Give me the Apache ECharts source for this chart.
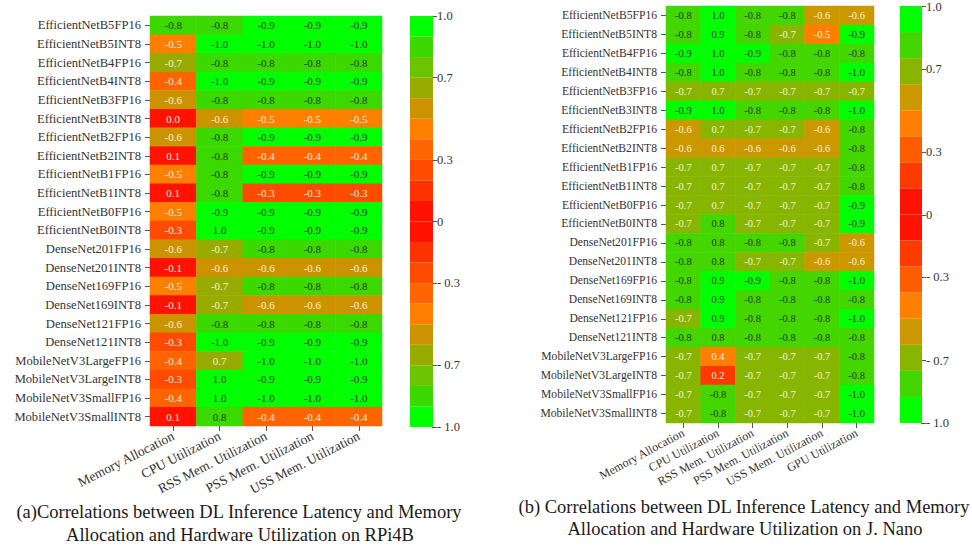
<!DOCTYPE html>
<html>
<head>
<meta charset="utf-8">
<script src="https://cdn.jsdelivr.net/npm/echarts@6/dist/echarts.min.js"></script>
<style>
html,body{margin:0;padding:0;background:#fff;}
#chart{width:972px;height:546px;}
</style>
</head>
<body>
<div id="chart"></div>
<script>
const models = ['EfficientNetB5FP16','EfficientNetB5INT8','EfficientNetB4FP16','EfficientNetB4INT8','EfficientNetB3FP16','EfficientNetB3INT8','EfficientNetB2FP16','EfficientNetB2INT8','EfficientNetB1FP16','EfficientNetB1INT8','EfficientNetB0FP16','EfficientNetB0INT8','DenseNet201FP16','DenseNet201INT8','DenseNet169FP16','DenseNet169INT8','DenseNet121FP16','DenseNet121INT8','MobileNetV3LargeFP16','MobileNetV3LargeINT8','MobileNetV3SmallFP16','MobileNetV3SmallINT8'];

const rpiMetrics = ['Memory Allocation','CPU Utilization','RSS Mem. Utilization','PSS Mem. Utilization','USS Mem. Utilization'];
const nanoMetrics = ['Memory Allocation','CPU Utilization','RSS Mem. Utilization','PSS Mem. Utilization','USS Mem. Utilization','GPU Utilization'];

// RPi4B correlations (rows = models, columns = rpiMetrics)
const rpiValues = [
  [-0.8,-0.8,-0.9,-0.9,-0.9],
  [-0.5,-1.0,-1.0,-1.0,-1.0],
  [-0.7,-0.8,-0.8,-0.8,-0.8],
  [-0.4,-1.0,-0.9,-0.9,-0.9],
  [-0.6,-0.8,-0.8,-0.8,-0.8],
  [0.0,-0.6,-0.5,-0.5,-0.5],
  [-0.6,-0.8,-0.9,-0.9,-0.9],
  [0.1,-0.8,-0.4,-0.4,-0.4],
  [-0.5,-0.8,-0.9,-0.9,-0.9],
  [0.1,-0.8,-0.3,-0.3,-0.3],
  [-0.5,-0.9,-0.9,-0.9,-0.9],
  [-0.3,1.0,-0.9,-0.9,-0.9],
  [-0.6,-0.7,-0.8,-0.8,-0.8],
  [-0.1,-0.6,-0.6,-0.6,-0.6],
  [-0.5,-0.7,-0.8,-0.8,-0.8],
  [-0.1,-0.7,-0.6,-0.6,-0.6],
  [-0.6,-0.8,-0.8,-0.8,-0.8],
  [-0.3,-1.0,-0.9,-0.9,-0.9],
  [-0.4,0.7,-1.0,-1.0,-1.0],
  [-0.3,1.0,-0.9,-0.9,-0.9],
  [-0.4,1.0,-1.0,-1.0,-1.0],
  [0.1,0.8,-0.4,-0.4,-0.4]
];

// Jetson Nano correlations (rows = models, columns = nanoMetrics)
const nanoValues = [
  [-0.8,1.0,-0.8,-0.8,-0.6,-0.6],
  [-0.8,0.9,-0.8,-0.7,-0.5,-0.9],
  [-0.9,1.0,-0.9,-0.8,-0.8,-0.8],
  [-0.8,1.0,-0.8,-0.8,-0.8,-1.0],
  [-0.7,0.7,-0.7,-0.7,-0.7,-0.7],
  [-0.9,1.0,-0.8,-0.8,-0.8,-1.0],
  [-0.6,0.7,-0.7,-0.7,-0.6,-0.8],
  [-0.6,0.6,-0.6,-0.6,-0.6,-0.8],
  [-0.7,0.7,-0.7,-0.7,-0.7,-0.8],
  [-0.7,0.7,-0.7,-0.7,-0.7,-0.8],
  [-0.7,0.7,-0.7,-0.7,-0.7,-0.9],
  [-0.7,0.8,-0.7,-0.7,-0.7,-0.9],
  [-0.8,0.8,-0.8,-0.8,-0.7,-0.6],
  [-0.8,0.8,-0.7,-0.7,-0.6,-0.6],
  [-0.8,0.9,-0.9,-0.8,-0.8,-1.0],
  [-0.8,0.9,-0.8,-0.8,-0.8,-0.8],
  [-0.7,0.9,-0.8,-0.8,-0.8,-1.0],
  [-0.8,0.8,-0.8,-0.8,-0.8,-0.8],
  [-0.7,0.4,-0.7,-0.7,-0.7,-0.8],
  [-0.7,0.2,-0.7,-0.7,-0.7,-0.8],
  [-0.7,-0.8,-0.7,-0.7,-0.7,-1.0],
  [-0.7,-0.8,-0.7,-0.7,-0.7,-1.0]
];

const colorbarTicks = [1.0, 0.7, 0.3, 0, -0.3, -0.7, -1.0];
const colorbarTickLabels = ['1.0', '0.7', '0.3', '0', '- 0.3', '- 0.7', '- 1.0'];

const captionA = ['(a)Correlations between DL Inference Latency and Memory', 'Allocation and Hardware Utilization on RPi4B'];
const captionB = ['(b) Correlations between DL Inference Latency and Memory', 'Allocation and Hardware Utilization on J. Nano'];

// colour bands (by |value|), from strongest to weakest
const rpiBandColors = ['#00ff00','#3bd900','#6cc300','#98ab00','#cc9300','#ff7f00','#ff6400','#ff4b00','#ff3200','#ff1200'];
const rpiBandEdges = [1.0,0.85,0.75,0.72,0.65,0.55,0.45,0.35,0.25,0.15,0];
const nanoBandColors = ['#00ff00','#44d600','#88b600','#cc9800','#ff7f00','#ff5c00','#ff3a00','#ff1200'];
const nanoBandEdges = [1.0,0.85,0.75,0.65,0.55,0.35,0.25,0.15,0];

function buildPieces(colors, edges) {
  const pieces = [];
  const n = colors.length;
  for (let i = 0; i < n; i++) {
    const hi = edges[i], lo = edges[i + 1];
    if (i === 0) pieces.push({gte: lo, lte: hi, color: colors[i]});
    else pieces.push({gte: lo, lt: hi, color: colors[i]});
    if (i === 0) pieces.push({gte: -hi, lte: -lo, color: colors[i]});
    else if (i === n - 1) pieces.push({gt: -hi, lt: 0, color: colors[i]});
    else pieces.push({gt: -hi, lte: -lo, color: colors[i]});
  }
  pieces.sort((a, b) => {
    const av = (a.gte !== undefined ? a.gte : a.gt);
    const bv = (b.gte !== undefined ? b.gte : b.gt);
    return av - bv;
  });
  return pieces;
}

function toCells(values) {
  const out = [];
  values.forEach((row, r) => row.forEach((v, c) => out.push([c, r, v])));
  return out;
}

const FONT = "'Liberation Serif', 'Times New Roman', serif";
const TXT = '#333';

function cellLabel(size) {
  return {
    show: true,
    fontFamily: FONT,
    fontSize: size,
    formatter: p => {
      const v = p.value[2];
      const s = v.toFixed(1);
      return Math.abs(v) >= 0.75 ? '{d|' + s + '}' : '{l|' + s + '}';
    },
    rich: {
      d: {color: '#263a18', fontFamily: FONT, fontSize: size},
      l: {color: '#f6f0dc', fontFamily: FONT, fontSize: size}
    }
  };
}

function cbFormatter(v) {
  let best = 0;
  colorbarTicks.forEach((t, i) => { if (Math.abs(t - v) < Math.abs(colorbarTicks[best] - v)) best = i; });
  return colorbarTickLabels[best];
}

const chart = echarts.init(document.getElementById('chart'), null, {renderer: 'svg'});

const option = {
  backgroundColor: '#ffffff',
  animation: false,
  grid: [
    {left: 150, top: 16, width: 232, height: 410},
    {left: 666, top: 6, width: 208, height: 417},
    {left: 432, top: 16, width: 1, height: 411},
    {left: 921, top: 6, width: 1, height: 417}
  ],
  xAxis: [
    {type: 'category', gridIndex: 0, data: rpiMetrics,
     axisLine: {show: false}, splitLine: {show: false},
     axisTick: {show: true, alignWithLabel: true, length: 5, lineStyle: {color: '#555'}},
     axisLabel: {interval: 0, rotate: 27, margin: 9, fontFamily: FONT, fontSize: 13.5, color: TXT}},
    {type: 'category', gridIndex: 1, data: nanoMetrics,
     axisLine: {show: false}, splitLine: {show: false},
     axisTick: {show: true, alignWithLabel: true, length: 5, lineStyle: {color: '#555'}},
     axisLabel: {interval: 0, rotate: 28, margin: 9, fontFamily: FONT, fontSize: 12, color: TXT}},
    {type: 'value', gridIndex: 2, show: false, min: 0, max: 1},
    {type: 'value', gridIndex: 3, show: false, min: 0, max: 1}
  ],
  yAxis: [
    {type: 'category', gridIndex: 0, data: models, inverse: true,
     axisLine: {show: false}, splitLine: {show: false},
     axisTick: {show: true, alignWithLabel: true, length: 5, lineStyle: {color: '#555'}},
     axisLabel: {interval: 0, margin: 9, fontFamily: FONT, fontSize: 12.6, color: TXT}},
    {type: 'category', gridIndex: 1, data: models, inverse: true,
     axisLine: {show: false}, splitLine: {show: false},
     axisTick: {show: true, alignWithLabel: true, length: 5, lineStyle: {color: '#555'}},
     axisLabel: {interval: 0, margin: 9, fontFamily: FONT, fontSize: 11.6, color: TXT}},
    {type: 'value', gridIndex: 2, position: 'right', min: -1, max: 1,
     axisLine: {show: false}, splitLine: {show: false},
     axisTick: {show: true, length: 5, customValues: colorbarTicks, lineStyle: {color: '#555'}},
     axisLabel: {customValues: colorbarTicks, formatter: cbFormatter, margin: 4, fontFamily: FONT, fontSize: 12.5, color: TXT}},
    {type: 'value', gridIndex: 3, position: 'right', min: -1, max: 1,
     axisLine: {show: false}, splitLine: {show: false},
     axisTick: {show: true, length: 5, customValues: colorbarTicks, lineStyle: {color: '#555'}},
     axisLabel: {customValues: colorbarTicks, formatter: cbFormatter, margin: 4, fontFamily: FONT, fontSize: 12.5, color: TXT}}
  ],
  visualMap: [
    {type: 'piecewise', seriesIndex: 0, dimension: 2, orient: 'vertical',
     left: 410, top: 16, padding: 0, itemGap: 0, itemWidth: 23, itemHeight: 411 / 20,
     itemSymbol: 'rect', showLabel: false, selectedMode: false, hoverLink: false,
     pieces: buildPieces(rpiBandColors, rpiBandEdges)},
    {type: 'piecewise', seriesIndex: 1, dimension: 2, orient: 'vertical',
     left: 900, top: 6, padding: 0, itemGap: 0, itemWidth: 22, itemHeight: 417 / 16,
     itemSymbol: 'rect', showLabel: false, selectedMode: false, hoverLink: false,
     pieces: buildPieces(nanoBandColors, nanoBandEdges)}
  ],
  series: [
    {type: 'heatmap', xAxisIndex: 0, yAxisIndex: 0, data: toCells(rpiValues),
     label: cellLabel(11), emphasis: {disabled: true}, itemStyle: {borderWidth: 0}},
    {type: 'heatmap', xAxisIndex: 1, yAxisIndex: 1, data: toCells(nanoValues),
     label: cellLabel(10.5), emphasis: {disabled: true}, itemStyle: {borderWidth: 0}}
  ],
  graphic: [
    {type: 'text', x: 239, y: 512, style: {text: captionA[0], textAlign: 'center', textVerticalAlign: 'middle', font: '18.5px ' + FONT, fill: '#1a1a1a'}},
    {type: 'text', x: 240, y: 535, style: {text: captionA[1], textAlign: 'center', textVerticalAlign: 'middle', font: '18.5px ' + FONT, fill: '#1a1a1a'}},
    {type: 'text', x: 744, y: 507, style: {text: captionB[0], textAlign: 'center', textVerticalAlign: 'middle', font: '18.5px ' + FONT, fill: '#1a1a1a'}},
    {type: 'text', x: 745, y: 529, style: {text: captionB[1], textAlign: 'center', textVerticalAlign: 'middle', font: '18.5px ' + FONT, fill: '#1a1a1a'}}
  ]
};

chart.setOption(option);
</script>
</body>
</html>
